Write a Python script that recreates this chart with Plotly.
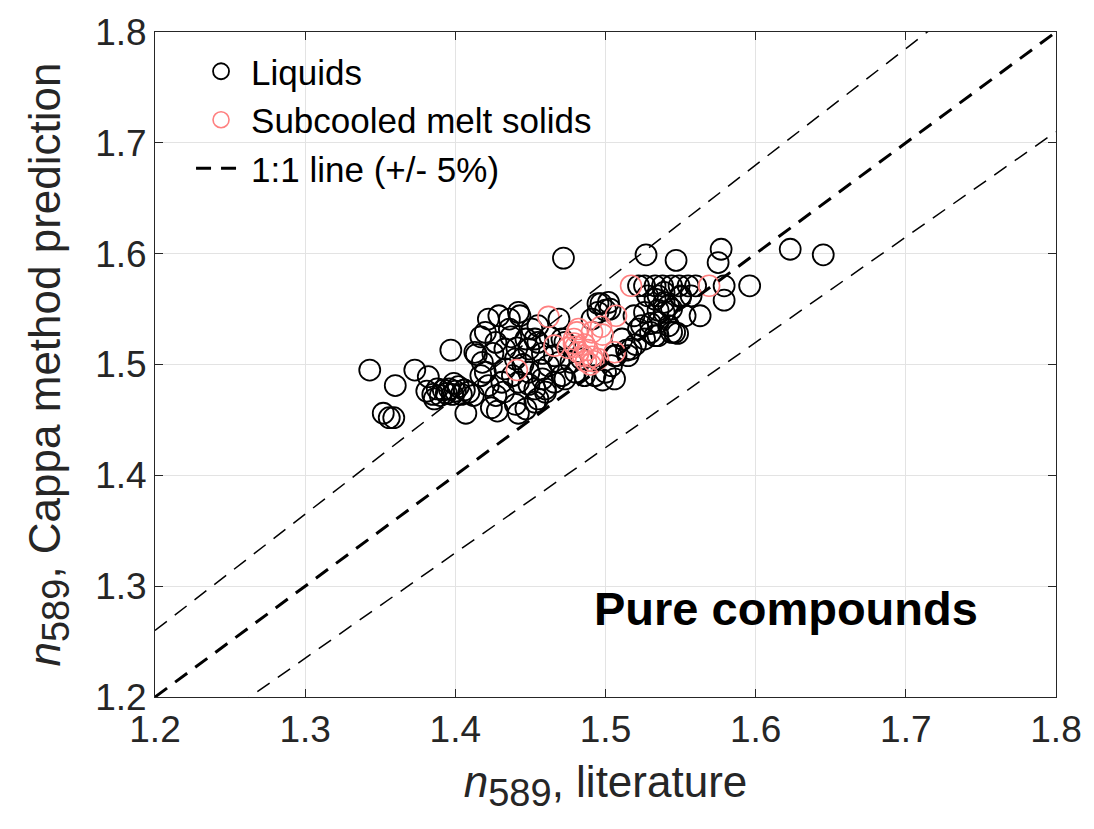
import plotly.graph_objects as go

# Refractive index at 589 nm: literature value vs. Cappa-method prediction
liquid_lit = [
    1.343, 1.352, 1.356, 1.359, 1.360, 1.373, 1.382, 1.397, 1.407,
    1.381, 1.385, 1.388, 1.390, 1.392, 1.394, 1.396, 1.398, 1.400, 1.402,
    1.404, 1.406, 1.409, 1.412, 1.386, 1.399,
    1.413, 1.414, 1.418, 1.420, 1.422, 1.427, 1.422, 1.429, 1.443, 1.436,
    1.420, 1.427, 1.433, 1.440, 1.449, 1.453, 1.455, 1.462, 1.449, 1.433,
    1.431, 1.442, 1.453, 1.466, 1.471, 1.440, 1.447, 1.442, 1.453, 1.460,
    1.466, 1.471, 1.458, 1.449, 1.442, 1.436, 1.451, 1.469, 1.455, 1.447,
    1.473, 1.424, 1.428, 1.417, 1.425, 1.437, 1.441, 1.458, 1.463, 1.417,
    1.432, 1.438, 1.445, 1.457, 1.455, 1.460,
    1.469, 1.477, 1.480, 1.486, 1.493, 1.500, 1.504, 1.506, 1.473, 1.484,
    1.498, 1.506, 1.511, 1.517, 1.515, 1.520, 1.507, 1.514,
    1.472, 1.527, 1.547, 1.577, 1.575, 1.623, 1.645, 1.596, 1.579, 1.563,
    1.548,
    1.495, 1.502, 1.500, 1.491, 1.497, 1.503, 1.495,
    1.522, 1.526, 1.533, 1.538, 1.544, 1.549, 1.555, 1.560, 1.579,
    1.519, 1.524, 1.533, 1.546, 1.553, 1.544, 1.533, 1.539, 1.535, 1.542,
    1.535, 1.526, 1.530, 1.542, 1.535, 1.522, 1.550, 1.539, 1.539, 1.535,
    1.544, 1.530, 1.526, 1.550, 1.557, 1.528,
]
liquid_pred = [
    1.495, 1.456, 1.452, 1.452, 1.481, 1.495, 1.489, 1.513, 1.456,
    1.476, 1.473, 1.478, 1.472, 1.477, 1.474, 1.478, 1.473, 1.476, 1.480,
    1.473, 1.477, 1.475, 1.472, 1.469, 1.483,
    1.511, 1.509, 1.502, 1.493, 1.481, 1.472, 1.541, 1.544, 1.544, 1.532,
    1.529, 1.520, 1.514, 1.505, 1.514, 1.523, 1.535, 1.499, 1.493, 1.496,
    1.484, 1.484, 1.478, 1.508, 1.523, 1.464, 1.460, 1.456, 1.466, 1.475,
    1.484, 1.490, 1.487, 1.482, 1.547, 1.541, 1.532, 1.541, 1.520, 1.523,
    1.520, 1.461, 1.458, 1.525, 1.510, 1.525, 1.515, 1.510, 1.525, 1.490,
    1.475, 1.490, 1.500, 1.495, 1.469, 1.478,
    1.502, 1.502, 1.493, 1.490, 1.490, 1.493, 1.499, 1.508, 1.487, 1.505,
    1.486, 1.487, 1.523, 1.514, 1.508, 1.518, 1.508, 1.513,
    1.596, 1.599, 1.594, 1.604, 1.592, 1.604, 1.599, 1.571, 1.558, 1.544,
    1.528,
    1.555, 1.556, 1.549, 1.541, 1.555, 1.550, 1.547,
    1.571, 1.571, 1.571, 1.571, 1.571, 1.571, 1.571, 1.571, 1.571,
    1.544, 1.535, 1.526, 1.529, 1.544, 1.550, 1.559, 1.565, 1.562, 1.553,
    1.549, 1.547, 1.537, 1.535, 1.526, 1.532, 1.562, 1.556, 1.547, 1.538,
    1.529, 1.529, 1.523, 1.561, 1.562, 1.562,
]

solid_lit = [
    1.462, 1.466, 1.441, 1.481, 1.479, 1.517, 1.507, 1.497, 1.491, 1.482,
    1.479, 1.506, 1.488, 1.485, 1.491, 1.482, 1.495, 1.569, 1.487, 1.492,
    1.480, 1.486, 1.498, 1.475, 1.490,
]
solid_pred = [
    1.543, 1.517, 1.495, 1.529, 1.519, 1.571, 1.544, 1.534, 1.529, 1.532,
    1.523, 1.511, 1.513, 1.508, 1.507, 1.511, 1.505, 1.571, 1.503, 1.503,
    1.516, 1.518, 1.527, 1.515, 1.500,
]

# 1:1 reference line and the +/- 5 % band around it
line_x = [1.2, 1.8]
ratios = [1.0, 1.05, 0.95]
line_widths = [3.0, 1.5, 1.5]

axis_range = [1.2, 1.8]
tick_vals = [1.2, 1.3, 1.4, 1.5, 1.6, 1.7, 1.8]
tick_text = ["1.2", "1.3", "1.4", "1.5", "1.6", "1.7", "1.8"]

FONT = "Liberation Sans, Arial, Helvetica, sans-serif"
INK = "#262626"

fig = go.Figure()

fig.add_trace(go.Scatter(
    x=liquid_lit, y=liquid_pred, mode="markers", name="Liquids",
    marker=dict(symbol="circle-open", size=21, color="black",
                line=dict(color="black", width=1.8)),
))
fig.add_trace(go.Scatter(
    x=solid_lit, y=solid_pred, mode="markers", name="Subcooled melt solids",
    marker=dict(symbol="circle-open", size=21, color="#FF8080",
                line=dict(color="#FF8080", width=1.6)),
))

for i, (r, w) in enumerate(zip(ratios, line_widths)):
    fig.add_trace(go.Scatter(
        x=line_x, y=[v * r for v in line_x], mode="lines",
        name="1:1 line (+/- 5%)", showlegend=(i == 0),
        line=dict(color="black", width=w, dash="15px,10px"),
    ))

axis_common = dict(
    range=axis_range, tickvals=tick_vals, ticktext=tick_text,
    showgrid=True, gridcolor="#e3e3e3", gridwidth=1,
    zeroline=False, showline=True, linecolor=INK, linewidth=1,
    mirror="ticks", ticks="inside", ticklen=8, tickcolor=INK,
    tickfont=dict(family=FONT, size=37, color=INK),
)

sub_style = "font-size:38px"

fig.update_layout(
    width=1094, height=829,
    margin=dict(l=155, r=34, t=28, b=132),
    paper_bgcolor="white", plot_bgcolor="white",
    font=dict(family=FONT, color=INK),
    xaxis=dict(**axis_common,
               title=dict(text=f"<i>n</i><sub><span style='{sub_style}'>589</span></sub>, literature",
                          font=dict(family=FONT, size=44, color=INK),
                          standoff=16)),
    yaxis=dict(**axis_common,
               title=dict(text=f"<i>n</i><sub><span style='{sub_style}'>589</span></sub>, Cappa method prediction",
                          font=dict(family=FONT, size=44, color=INK),
                          standoff=20)),
    legend=dict(x=0.04, y=0.985, xanchor="left", yanchor="top",
                bgcolor="rgba(0,0,0,0)", borderwidth=0, itemwidth=50,
                font=dict(family=FONT, size=35, color="black")),
    showlegend=True,
    annotations=[dict(
        x=1.7495, y=1.28, xref="x", yref="y", xanchor="right", yanchor="middle",
        text="<b>Pure compounds</b>", showarrow=False,
        font=dict(family=FONT, size=47, color="black"),
    )],
)

fig.write_html("out.html")
